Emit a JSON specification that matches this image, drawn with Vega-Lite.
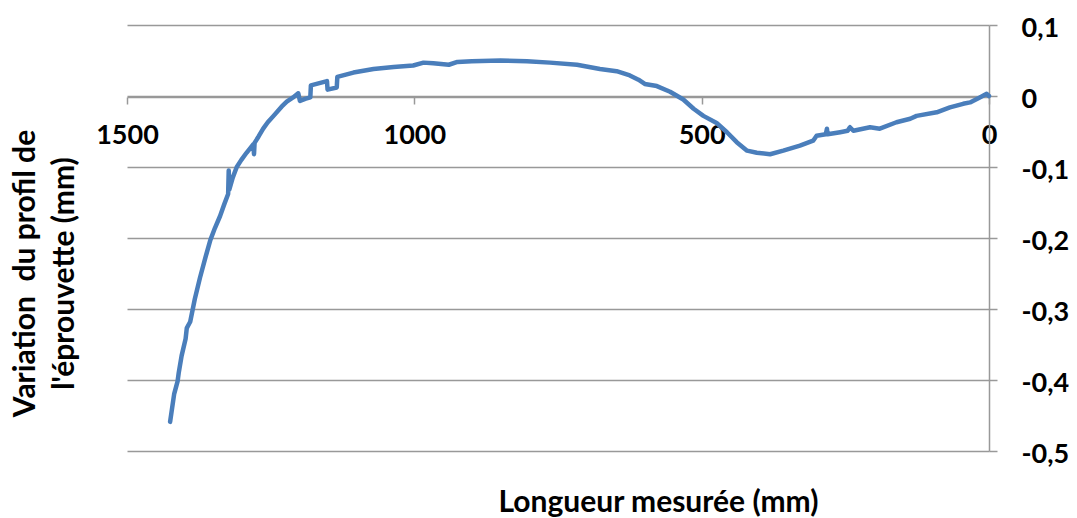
{
  "$schema": "https://vega.github.io/schema/vega-lite/v6.json",
  "width": 862,
  "height": 426,
  "autosize": "none",
  "padding": {"left": 127, "top": 25, "right": 88, "bottom": 67},
  "background": "white",
  "config": {"view": {"stroke": null}, "font": "Lato"},
  "data": {"values": [
    {"i": 0, "longueur": 0, "variation": 0},
    {"i": 1, "longueur": 4, "variation": 0.003},
    {"i": 2, "longueur": 16, "variation": -0.002},
    {"i": 3, "longueur": 33, "variation": -0.009},
    {"i": 4, "longueur": 45, "variation": -0.011},
    {"i": 5, "longueur": 68, "variation": -0.016},
    {"i": 6, "longueur": 91, "variation": -0.023},
    {"i": 7, "longueur": 126, "variation": -0.028},
    {"i": 8, "longueur": 137, "variation": -0.032},
    {"i": 9, "longueur": 161, "variation": -0.037},
    {"i": 10, "longueur": 190, "variation": -0.046},
    {"i": 11, "longueur": 207, "variation": -0.044},
    {"i": 12, "longueur": 236, "variation": -0.049},
    {"i": 13, "longueur": 242, "variation": -0.044},
    {"i": 14, "longueur": 246, "variation": -0.049},
    {"i": 15, "longueur": 259, "variation": -0.051},
    {"i": 16, "longueur": 281, "variation": -0.054},
    {"i": 17, "longueur": 282, "variation": -0.046},
    {"i": 18, "longueur": 284, "variation": -0.054},
    {"i": 19, "longueur": 300, "variation": -0.056},
    {"i": 20, "longueur": 306, "variation": -0.063},
    {"i": 21, "longueur": 329, "variation": -0.070},
    {"i": 22, "longueur": 358, "variation": -0.077},
    {"i": 23, "longueur": 381, "variation": -0.082},
    {"i": 24, "longueur": 404, "variation": -0.080},
    {"i": 25, "longueur": 421, "variation": -0.077},
    {"i": 26, "longueur": 439, "variation": -0.065},
    {"i": 27, "longueur": 456, "variation": -0.051},
    {"i": 28, "longueur": 474, "variation": -0.038},
    {"i": 29, "longueur": 497, "variation": -0.028},
    {"i": 30, "longueur": 514, "variation": -0.018},
    {"i": 31, "longueur": 532, "variation": -0.005},
    {"i": 32, "longueur": 555, "variation": 0.006},
    {"i": 33, "longueur": 578, "variation": 0.014},
    {"i": 34, "longueur": 599, "variation": 0.017},
    {"i": 35, "longueur": 610, "variation": 0.023},
    {"i": 36, "longueur": 625, "variation": 0.029},
    {"i": 37, "longueur": 648, "variation": 0.035},
    {"i": 38, "longueur": 677, "variation": 0.038},
    {"i": 39, "longueur": 717, "variation": 0.044},
    {"i": 40, "longueur": 764, "variation": 0.047},
    {"i": 41, "longueur": 804, "variation": 0.049},
    {"i": 42, "longueur": 850, "variation": 0.050},
    {"i": 43, "longueur": 900, "variation": 0.049},
    {"i": 44, "longueur": 925, "variation": 0.048},
    {"i": 45, "longueur": 940, "variation": 0.044},
    {"i": 46, "longueur": 967, "variation": 0.046},
    {"i": 47, "longueur": 984, "variation": 0.047},
    {"i": 48, "longueur": 1002, "variation": 0.043},
    {"i": 49, "longueur": 1036, "variation": 0.041},
    {"i": 50, "longueur": 1071, "variation": 0.038},
    {"i": 51, "longueur": 1106, "variation": 0.033},
    {"i": 52, "longueur": 1134, "variation": 0.027},
    {"i": 53, "longueur": 1135, "variation": 0.012},
    {"i": 54, "longueur": 1151, "variation": 0.009},
    {"i": 55, "longueur": 1152, "variation": 0.021},
    {"i": 56, "longueur": 1180, "variation": 0.015},
    {"i": 57, "longueur": 1181, "variation": -0.002},
    {"i": 58, "longueur": 1190, "variation": -0.004},
    {"i": 59, "longueur": 1199, "variation": -0.007},
    {"i": 60, "longueur": 1202, "variation": 0.004},
    {"i": 61, "longueur": 1211, "variation": -0.002},
    {"i": 62, "longueur": 1222, "variation": -0.008},
    {"i": 63, "longueur": 1231, "variation": -0.015},
    {"i": 64, "longueur": 1245, "variation": -0.028},
    {"i": 65, "longueur": 1255, "variation": -0.037},
    {"i": 66, "longueur": 1263, "variation": -0.046},
    {"i": 67, "longueur": 1271, "variation": -0.057},
    {"i": 68, "longueur": 1278, "variation": -0.066},
    {"i": 69, "longueur": 1279, "variation": -0.082},
    {"i": 70, "longueur": 1280, "variation": -0.068},
    {"i": 71, "longueur": 1292, "variation": -0.080},
    {"i": 72, "longueur": 1301, "variation": -0.090},
    {"i": 73, "longueur": 1309, "variation": -0.100},
    {"i": 74, "longueur": 1316, "variation": -0.115},
    {"i": 75, "longueur": 1322, "variation": -0.132},
    {"i": 76, "longueur": 1323, "variation": -0.105},
    {"i": 77, "longueur": 1324, "variation": -0.138},
    {"i": 78, "longueur": 1331, "variation": -0.153},
    {"i": 79, "longueur": 1338, "variation": -0.169},
    {"i": 80, "longueur": 1347, "variation": -0.186},
    {"i": 81, "longueur": 1355, "variation": -0.203},
    {"i": 82, "longueur": 1363, "variation": -0.226},
    {"i": 83, "longueur": 1373, "variation": -0.256},
    {"i": 84, "longueur": 1382, "variation": -0.286},
    {"i": 85, "longueur": 1390, "variation": -0.318},
    {"i": 86, "longueur": 1396, "variation": -0.327},
    {"i": 87, "longueur": 1398, "variation": -0.342},
    {"i": 88, "longueur": 1405, "variation": -0.366},
    {"i": 89, "longueur": 1410, "variation": -0.390},
    {"i": 90, "longueur": 1412, "variation": -0.402},
    {"i": 91, "longueur": 1418, "variation": -0.420},
    {"i": 92, "longueur": 1425, "variation": -0.459}
  ]},
  "mark": {"type": "line", "color": "#4a7ebb", "strokeWidth": 4.5, "strokeCap": "round", "strokeJoin": "round"},
  "encoding": {
    "order": {"field": "i", "type": "quantitative"},
    "x": {
      "field": "longueur", "type": "quantitative",
      "scale": {"domain": [0, 1500], "reverse": true, "nice": false},
      "axis": {
        "orient": "bottom", "offset": -354, "zindex": 0,
        "values": [0, 500, 1000, 1500], "format": "d", "grid": false,
        "domainColor": "#999999", "domainWidth": 1.5,
        "tickColor": "#999999", "tickWidth": 1.5, "tickSize": 7,
        "labelFont": "Lato", "labelFontWeight": "bold", "labelFontSize": 27, "labelColor": "black",
        "labelPadding": 18, "labelFlush": false, "labelOverlap": false,
        "title": "Longueur mesurée (mm)",
        "titleFont": "Lato", "titleFontSize": 30, "titleFontWeight": "bold", "titleColor": "black",
        "titleX": 531, "titleY": 414, "titleAlign": "center", "titleBaseline": "alphabetic", "titleAnchor": null
      }
    },
    "y": {
      "field": "variation", "type": "quantitative",
      "scale": {"domain": [-0.5, 0.1], "nice": false, "zero": false},
      "axis": {
        "orient": "right", "zindex": 0,
        "values": [-0.5, -0.4, -0.3, -0.2, -0.1, 0, 0.1],
        "labelExpr": "abs(datum.value) < 1e-9 ? '0' : replace(replace(format(datum.value, '.1f'), '.', ','), '\u2212', '-')",
        "grid": true, "gridColor": "#999999", "gridWidth": 1.5,
        "domainColor": "#999999", "domainWidth": 1.5,
        "tickColor": "#999999", "tickWidth": 1.5, "tickSize": 8,
        "labelFont": "Lato", "labelFontWeight": "bold", "labelFontSize": 27, "labelColor": "black",
        "labelPadding": 24, "labelAlign": "left", "labelBaseline": "middle", "labelOffset": 3,
        "labelFlush": false, "labelOverlap": false,
        "title": ["Variation\u00a0 du profil de", "l'éprouvette (mm)"],
        "titleFont": "Lato", "titleFontSize": 30, "titleFontWeight": "bold", "titleColor": "black",
        "titleAngle": -90, "titleX": -964, "titleY": 248, "titleAlign": "center", "titleBaseline": "middle",
        "titleLineHeight": 39, "titleAnchor": null
      }
    }
  }
}
